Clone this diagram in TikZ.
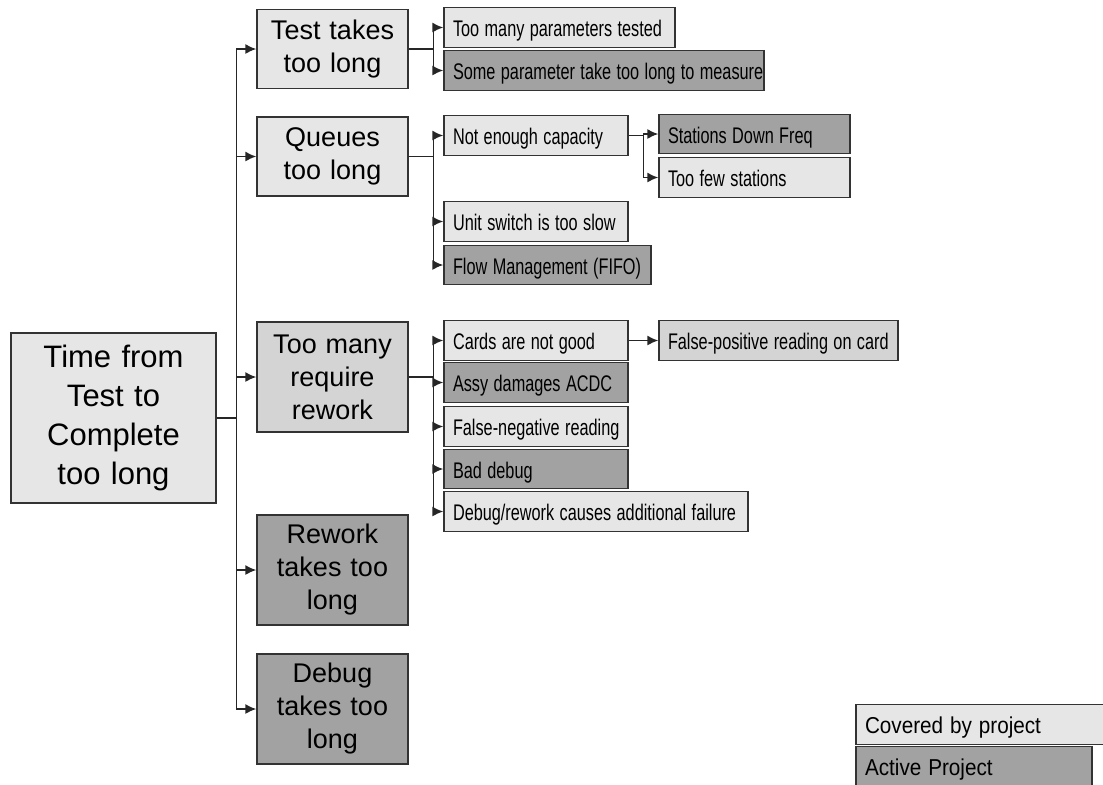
\documentclass[tikz,border=0pt]{standalone}
\usepackage{fontspec}
\usepackage{graphicx}
\setmainfont{Liberation Sans}
\usetikzlibrary{arrows.meta}

\definecolor{covered}{HTML}{E6E6E6}
\definecolor{covermid}{HTML}{D4D4D4}
\definecolor{active}{HTML}{A2A2A2}
\definecolor{edge}{HTML}{333333}

% condensed text of the small boxes
\newcommand{\squeeze}[1]{\scalebox{0.72}[1]{#1}}
\newcommand{\legsqueeze}[1]{\scalebox{0.9}[1]{#1}}

\begin{document}
\begin{tikzpicture}[x=0.5pt, y=-0.5pt, >={Latex[length=5.5pt,width=5pt]},
    box/.style={draw=edge, line width=0.7pt, fill=covered, inner sep=0pt},
    rootbox/.style={box, text width=102.5pt, minimum height=85pt, align=center,
        font=\fontsize{15.5}{19.5}\selectfont},
    lvlone/.style={box, text width=75.5pt, minimum height=#1, align=center,
        font=\fontsize{13.5}{16.5}\selectfont},
    lvltwo/.style={box, inner xsep=4.5pt, text width=#1, minimum height=19.75pt,
        text height=10pt, text depth=1pt, font=\fontsize{11.3}{13}\selectfont},
    link/.style={->, line width=0.75pt, draw=black!85}]
            % Canvas
            \useasboundingbox (0,0) rectangle (1103,784);
            \clip (0,0) rectangle (1103,784);

            % Root
            \node[rootbox] (root) at (113.5,418) {Time from\\Test to\\Complete\\too long};

            % First level
            \node[lvlone=39.5pt] (test) at (332.5,49) {Test takes\\too long};
            \node[lvlone=39.5pt] (queue) at (332.5,156.5) {Queues\\too long};
            \node[lvlone=55pt, fill=covermid] (rework) at (332.5,377) {Too many\\require\\rework};
            \node[lvlone=55pt, fill=active] (reworktime) at (332.5,570) {Rework\\takes too\\long};
            \node[lvlone=55pt, fill=active] (debugtime) at (332.5,709) {Debug\\takes too\\long};

            % Test branch
            \node[lvltwo=106.5pt] (params) at (559.5,27.5) {\squeeze{Too many parameters tested}};
            \node[lvltwo=151pt, fill=active] (measure) at (604,70.5) {\squeeze{Some parameter take too long to measure}};

            % Queue branch
            \node[lvltwo=83pt] (capacity) at (536,135.5) {\squeeze{Not enough capacity}};
            \node[lvltwo=86.5pt, fill=active] (stationsdown) at (754.5,134) {\squeeze{Stations Down Freq}};
            \node[lvltwo=86.5pt] (fewstations) at (754.5,177.5) {\squeeze{Too few stations}};
            \node[lvltwo=83pt] (unitswitch) at (536,221.5) {\squeeze{Unit switch is too slow}};
            \node[lvltwo=94.5pt, fill=active] (fifo) at (547.5,265) {\squeeze{Flow Management (FIFO)}};

            % Rework branch
            \node[lvltwo=83pt] (cards) at (536,340.5) {\squeeze{Cards are not good}};
            \node[lvltwo=110.5pt, fill=covermid] (falsepos) at (778.5,340.5) {\squeeze{False-positive reading on card}};
            \node[lvltwo=83pt, fill=active] (assy) at (536,382.5) {\squeeze{Assy damages ACDC}};
            \node[lvltwo=83pt] (falseneg) at (536,426.5) {\squeeze{False-negative reading}};
            \node[lvltwo=83pt, fill=active] (baddebug) at (536,469) {\squeeze{Bad debug}};
            \node[lvltwo=143pt] (debugfail) at (596,511.5) {\squeeze{Debug/rework causes additional failure}};

            % Legend
            \node[lvltwo=116pt, font=\fontsize{11.5}{13}\selectfont] (legcovered) at (981,724.5) {\legsqueeze{Covered by project}};
            \node[lvltwo=109pt, fill=active, font=\fontsize{11.5}{13}\selectfont] (legactive) at (974,766.5) {\legsqueeze{Active Project}};

            % Connectors
            \foreach \c in {test,queue,rework,reworktime,debugtime}
                \draw[link] (root.east) -- ++(20,0) |- (\c.west);
            \foreach \c in {params,measure}
                \draw[link] (test.east) -- ++(25,0) |- (\c.west);
            \foreach \c in {capacity,unitswitch,fifo}
                \draw[link] (queue.east) -- ++(25,0) |- (\c.west);
            \foreach \c in {stationsdown,fewstations}
                \draw[link] (capacity.east) -- ++(15,0) |- (\c.west);
            \foreach \c in {cards,assy,falseneg,baddebug,debugfail}
                \draw[link] (rework.east) -- ++(25,0) |- (\c.west);
            \draw[link] (cards.east) -- (falsepos.west);
\end{tikzpicture}
\end{document}
